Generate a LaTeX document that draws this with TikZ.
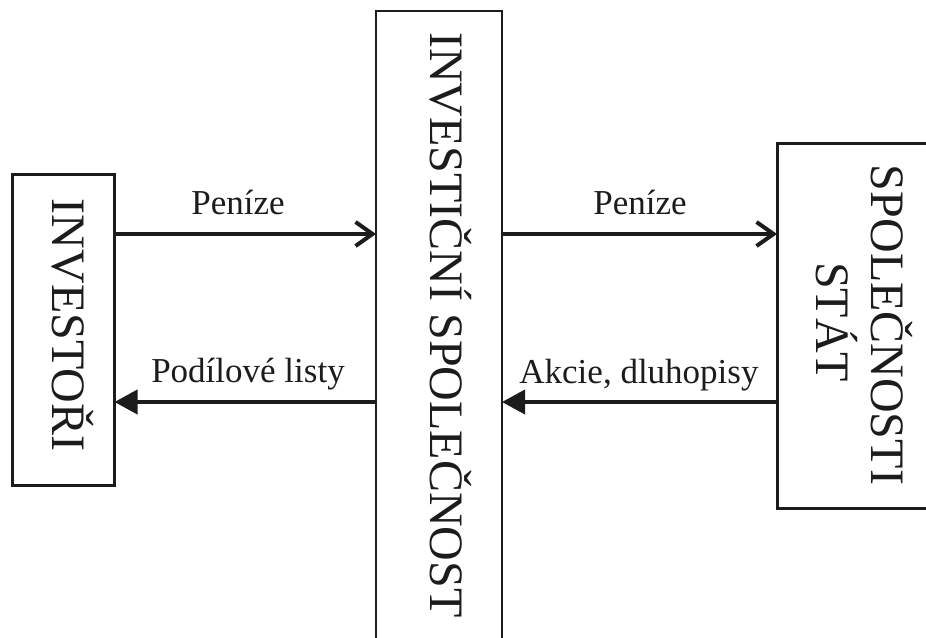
\documentclass[tikz,border=0pt]{standalone}
\usepackage{fontspec}
\setmainfont{Liberation Serif}
\usetikzlibrary{arrows.meta}
\definecolor{ink}{RGB}{28,28,28}
\tikzset{
  x=1pt, y=-1pt,
  heavybox/.style={draw=ink, line width=3pt, inner sep=0pt, outer sep=0pt},
  lightbox/.style={draw=ink, line width=1.4pt, inner sep=0pt, outer sep=0pt},
  boxtext/.style={rotate=-90, inner sep=0pt, text=ink, text height=0.66em, text depth=0pt,
                  font=\fontsize{48}{55}\selectfont},
  flowtext/.style={anchor=base, inner sep=0pt, text=ink, font=\fontsize{35}{40}\selectfont},
  money/.style={draw=ink, line width=4pt, -{Straight Barb[length=17pt, width=24pt, line width=4pt]}},
  papers/.style={draw=ink, line width=4pt, -{Triangle[length=23pt, width=24pt]}},
}
\begin{document}
\begin{tikzpicture}
\useasboundingbox (0,0) rectangle (926,637);
\clip (0,0) rectangle (926,637);

% the three parties
\node[heavybox, minimum width=102pt, minimum height=311pt] (inv) at (63.5,329.5) {};
\node[lightbox, minimum width=126pt, minimum height=649pt] (fund) at (439,335.5) {};
\node[heavybox, minimum width=163pt, minimum height=365pt] (firm) at (858.5,325.5) {};

% vertical captions
\node[boxtext] (invtext) at (56,325) {INVESTOŘI};
\node[boxtext] (fundtext) at (434,325) {INVESTIČNÍ SPOLEČNOST};
\node[boxtext] (firmtext) at (875,325) {SPOLEČNOSTI};
\node[boxtext] (statetext) at (820,322) {STÁT};

% money flows to the right, securities flow back
\coordinate (top) at (0,234);
\coordinate (bot) at (0,402);
\draw[money] (inv.east |- top) -- (fund.west |- top);
\draw[money] (fund.east |- top) -- (firm.west |- top);
\draw[papers] (fund.west |- bot) -- (inv.east |- bot);
\draw[papers] (firm.west |- bot) -- (fund.east |- bot);

% flow labels
\node[flowtext] (l1) at (238,214) {Peníze};
\node[flowtext] (l2) at (640,214) {Peníze};
\node[flowtext] (l3) at (248,382) {Podílové listy};
\node[flowtext] (l4) at (639,383) {Akcie, dluhopisy};
\end{tikzpicture}
\end{document}
